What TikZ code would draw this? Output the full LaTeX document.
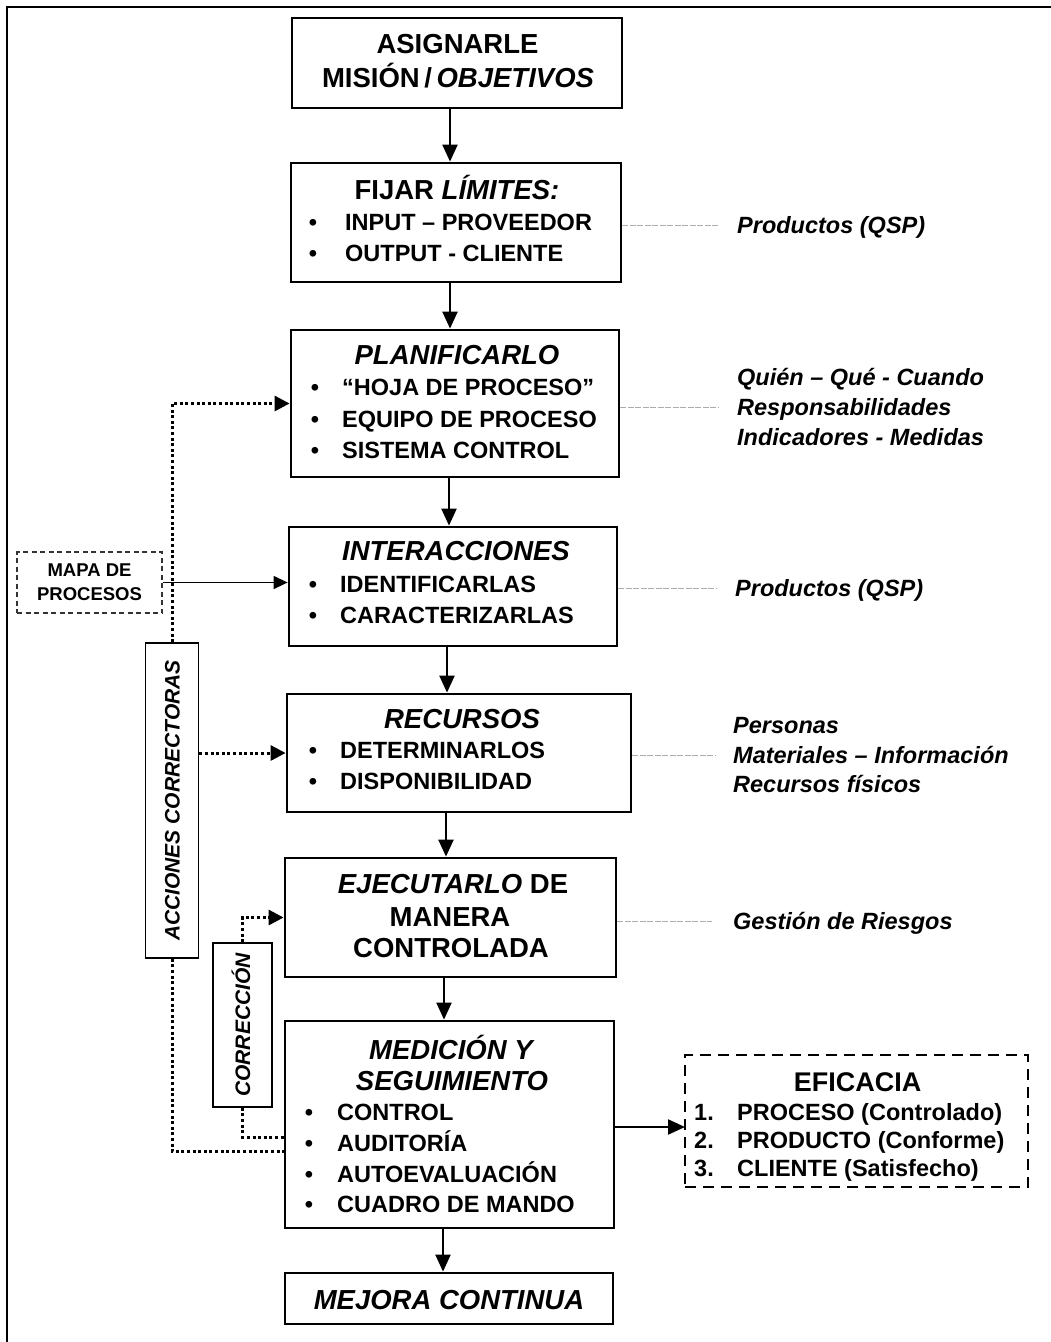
\documentclass[tikz,border=0pt]{standalone}
\usepackage{fontspec}
\setmainfont{Liberation Sans}
\usetikzlibrary{arrows.meta}

\newcommand\flowhead{\fontsize{27.5pt}{33pt}\selectfont\bfseries}
\newcommand\flowitem{\fontsize{23.5pt}{28pt}\selectfont\bfseries}
\newcommand\flowlabel{\fontsize{23.5pt}{28pt}\selectfont\bfseries\itshape}
\newcommand\flowmap{\fontsize{18.5pt}{24pt}\selectfont\bfseries}
\newcommand\flowside{\fontsize{21pt}{25pt}\selectfont\bfseries\itshape}

% bullet row: name, bullet x, text x, y, text
\newcommand\bulrow[5]{%
  \node[itm] (#1-b) at (#2,#4) {\textbullet};
  \node[itm, anchor=west] (#1) at (#3,#4) {#5};}
% numbered row: name, number x, text x, y, number, text
\newcommand\numrow[6]{%
  \node[itm, anchor=west] (#1-n) at (#2,#4) {#5};
  \node[itm, anchor=west] (#1) at (#3,#4) {#6};}

\tikzset{
  box/.style={draw, line width=2.8pt, inner sep=0pt},
  head/.style={font=\flowhead, inner sep=0pt, text height=19.7pt, text depth=0pt},
  itm/.style={font=\flowitem, inner sep=0pt, text height=16.8pt, text depth=0pt},
  lab/.style={font=\flowlabel, inner sep=0pt, text height=16.8pt, text depth=0pt, anchor=west},
  flow/.style={line width=2.2pt, -{Triangle[width=15pt,length=17pt]}},
  lead/.style={draw=gray!65, line width=0.9pt, dash pattern=on 6pt off 1.5pt},
  dotline/.style={line width=3pt, dash pattern=on 3pt off 2.6pt},
  dotarr/.style={dotline, -{Triangle[width=15pt,length=15pt]}},
  sidebox/.style={draw, line width=1.6pt, rotate=90, font=\flowside, inner sep=0pt,
    text height=15pt, text depth=0pt},
}

\begin{document}
\begin{tikzpicture}[x=1pt, y=-1pt]
\useasboundingbox (0,0) rectangle (1051,1342);
\fill[white] (0,0) rectangle (1051,1342);

% page frame (top and left rules)
\draw[line width=2.8pt] (7,1342) -- (7,7) -- (1051,7);

% ---------- main chain of boxes ----------
\node[box, minimum width=330pt, minimum height=90pt]  (asig)   at (457,63)     {};
\node[box, minimum width=330pt, minimum height=119pt] (fijar)  at (456,222.5)  {};
\node[box, minimum width=328pt, minimum height=147pt] (plan)   at (455,403.5)  {};
\node[box, minimum width=328pt, minimum height=119pt] (inter)  at (453,586.5)  {};
\node[box, minimum width=344pt, minimum height=118pt] (recur)  at (459,753)    {};
\node[box, minimum width=331pt, minimum height=119pt] (ejec)   at (450.5,917.5){};
\node[box, minimum width=329pt, minimum height=207pt] (med)    at (449.5,1124.5){};
\node[box, minimum width=328pt, minimum height=51pt]  (mejora) at (449,1298.5) {};

% box texts
\node[head] (asig-1) at (457.5,43.5) {ASIGNARLE};
\node[head] (asig-2) at (458,78) {MISIÓN\,/\,\textit{OBJETIVOS}};

\node[head] (fijar-h) at (457,190) {FIJAR \textit{LÍMITES:}};
\bulrow{fijar-1}{313}{345}{222}{INPUT – PROVEEDOR}
\bulrow{fijar-2}{313}{345}{253}{OUTPUT - CLIENTE}

\node[head] (plan-h) at (457,355) {\textit{PLANIFICARLO}};
\bulrow{plan-1}{315}{342}{387}{“HOJA DE PROCESO”}
\bulrow{plan-2}{315}{342}{419}{EQUIPO DE PROCESO}
\bulrow{plan-3}{315}{342}{450}{SISTEMA CONTROL}

\node[head] (inter-h) at (456,551) {\textit{INTERACCIONES}};
\bulrow{inter-1}{313}{340}{584}{IDENTIFICARLAS}
\bulrow{inter-2}{313}{340}{615}{CARACTERIZARLAS}

\node[head] (recur-h) at (462,719) {\textit{RECURSOS}};
\bulrow{recur-1}{313}{340}{750}{DETERMINARLOS}
\bulrow{recur-2}{313}{340}{781}{DISPONIBILIDAD}

\node[head] (ejec-1) at (453,884) {\textit{EJECUTARLO} DE};
\node[head] (ejec-2) at (450,917) {MANERA};
\node[head] (ejec-3) at (451,948) {CONTROLADA};

\node[head] (med-1) at (452,1050) {\textit{MEDICIÓN Y}};
\node[head] (med-2) at (452,1081) {\textit{SEGUIMIENTO}};
\bulrow{med-a}{309}{337}{1112}{CONTROL}
\bulrow{med-b}{309}{337}{1143}{AUDITORÍA}
\bulrow{med-c}{309}{337}{1174}{AUTOEVALUACIÓN}
\bulrow{med-d}{309}{337}{1204}{CUADRO DE MANDO}

\node[head] (mejora-t) at (449,1300) {\textit{MEJORA CONTINUA}};

% vertical flow arrows
\coordinate (a1) at (450,0);
\coordinate (a2) at (450,0);
\coordinate (a3) at (449,0);
\coordinate (a4) at (447,0);
\coordinate (a5) at (446,0);
\coordinate (a6) at (444,0);
\coordinate (a7) at (443,0);
\draw[flow] (asig.south -| a1)  -- (fijar.north -| a1);
\draw[flow] (fijar.south -| a2) -- (plan.north -| a2);
\draw[flow] (plan.south -| a3)  -- (inter.north -| a3);
\draw[flow] (inter.south -| a4) -- (recur.north -| a4);
\draw[flow] (recur.south -| a5) -- (ejec.north -| a5);
\draw[flow] (ejec.south -| a6)  -- (med.north -| a6);
\draw[flow] (med.south -| a7)   -- (mejora.north -| a7);

% ---------- notes on the right ----------
\node[lab] (fijar-n) at (737,225) {Productos (QSP)};
\draw[lead] (fijar.east |- fijar-n.west) -- ([xshift=-19pt]fijar-n.west);

\node[lab] (plan-n1) at (737,377) {Quién – Qué - Cuando};
\node[lab] (plan-n2) at (737,407) {Responsabilidades};
\node[lab] (plan-n3) at (737,437) {Indicadores - Medidas};
\draw[lead] (plan.east |- plan-n2.west) -- ([xshift=-19pt]plan-n2.west);

\node[lab] (inter-n) at (735,588) {Productos (QSP)};
\draw[lead] (inter.east |- inter-n.west) -- ([xshift=-19pt]inter-n.west);

\node[lab] (recur-n1) at (733,725) {Personas};
\node[lab] (recur-n2) at (733,755) {Materiales – Información};
\node[lab] (recur-n3) at (733,784) {Recursos físicos};
\draw[lead] (recur.east |- recur-n2.west) -- ([xshift=-18pt]recur-n2.west);

\node[lab] (ejec-n) at (733,921) {Gestión de Riesgos};
\draw[lead] (ejec.east |- ejec-n.west) -- ([xshift=-21pt]ejec-n.west);

% ---------- effectiveness box ----------
\node[draw, line width=2.2pt, dash pattern=on 11pt off 7pt, inner sep=0pt,
      minimum width=343pt, minimum height=132pt] (eff) at (856.5,1121) {};
\node[head, font=\fontsize{27pt}{32pt}\selectfont\bfseries] (eff-h) at (857.5,1082) {EFICACIA};
\numrow{eff-1}{694}{737}{1112}{1.}{PROCESO (Controlado)}
\numrow{eff-2}{694}{737}{1140}{2.}{PRODUCTO (Conforme)}
\numrow{eff-3}{694}{737}{1168}{3.}{CLIENTE (Satisfecho)}
\coordinate (effin) at (685,1127);
\draw[flow] (med.east |- effin) -- (effin);

% ---------- process map input ----------
\node[draw=black!80, line width=1.5pt, dash pattern=on 5pt off 3.5pt, inner sep=0pt,
      minimum width=145pt, minimum height=61pt, align=center, font=\flowmap]
      (mapa) at (89.5,582.5) {MAPA DE\\PROCESOS};
\draw[line width=1.4pt, -{Triangle[width=13pt,length=14pt]}] (mapa.east) -- (mapa.east -| inter.west);

% ---------- corrective actions loop ----------
\node[sidebox, minimum width=315pt, minimum height=53pt] (acc) at (172,800.5) {ACCIONES CORRECTORAS};
\draw[dotarr] (acc.east) |- (plan.west);
\draw[dotarr] (acc.south |- recur.west) -- (recur.west);
\draw[dotline] (acc.west) |- ([yshift=-26.5pt]med.west);

% ---------- correction loop ----------
\node[sidebox, minimum width=164pt, minimum height=59pt] (corr) at (242.5,1025) {CORRECCIÓN};
\draw[dotarr] (corr.east) |- (ejec.west);
\draw[dotline] (corr.west) |- ([yshift=-12.5pt]med.west);
\end{tikzpicture}
\end{document}
